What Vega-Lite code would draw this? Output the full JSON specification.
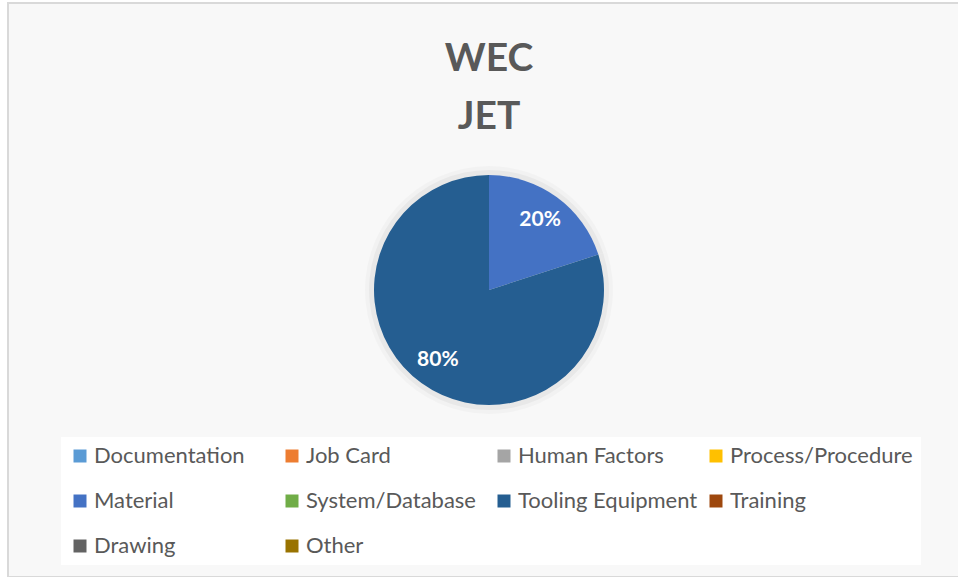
{
  "$schema": "https://vega.github.io/schema/vega-lite/v6.json",
  "autosize": {"type": "none"},
  "padding": {"left": 8, "top": 3, "right": 0, "bottom": 0},
  "width": 962,
  "height": 574,
  "background": "white",
  "view": {"fill": "#f8f8f8", "stroke": "#d9d9d9", "strokeWidth": 2},
  "config": {
    "font": "Lato"
  },
  "title": {
    "text": ["WEC", "JET"],
    "fontSize": 39,
    "fontWeight": "bold",
    "color": "#595959",
    "font": "Lato",
    "anchor": "middle",
    "lineHeight": 58,
    "baseline": "alphabetic",
    "dy": 165,
    "offset": 0
  },
  "data": {
    "values": [
      {"cat": "Documentation", "share": 0},
      {"cat": "Job Card", "share": 0},
      {"cat": "Human Factors", "share": 0},
      {"cat": "Process/Procedure", "share": 0},
      {"cat": "Material", "share": 0.2},
      {"cat": "System/Database", "share": 0},
      {"cat": "Tooling Equipment", "share": 0.8},
      {"cat": "Training", "share": 0},
      {"cat": "Drawing", "share": 0},
      {"cat": "Other", "share": 0}
    ]
  },
  "layer": [
    {
      "mark": {"type": "arc", "outerRadius": 124, "fill": "#000000", "opacity": 0.025},
      "encoding": {"theta": {"field": "share", "type": "quantitative", "stack": true}}
    },
    {
      "mark": {"type": "arc", "outerRadius": 120, "fill": "#000000", "opacity": 0.04},
      "encoding": {"theta": {"field": "share", "type": "quantitative", "stack": true}}
    },
    {
      "mark": {"type": "arc", "outerRadius": 115},
      "encoding": {
        "theta": {"field": "share", "type": "quantitative", "stack": true},
        "color": {
          "field": "cat",
          "type": "nominal",
          "scale": {
            "domain": ["Documentation", "Job Card", "Human Factors", "Process/Procedure", "Material", "System/Database", "Tooling Equipment", "Training", "Drawing", "Other"],
            "range": ["#5B9BD5", "#ED7D31", "#A5A5A5", "#FFC000", "#4472C4", "#70AD47", "#255E91", "#9E480E", "#636363", "#997300"]
          },
          "legend": {
            "title": null,
            "orient": "none",
            "legendX": 53,
            "legendY": 434,
            "direction": "horizontal",
            "columns": 4,
            "gridAlign": "all",
            "columnPadding": 4,
            "rowPadding": 23,
            "padding": 8,
            "fillColor": "white",
            "symbolType": "square",
            "symbolSize": 169,
            "symbolStrokeWidth": 0,
            "labelFontSize": 22,
            "labelColor": "#595959",
            "labelFont": "Lato",
            "labelOffset": 3,
            "labelLimit": 300
          }
        }
      }
    },
    {
      "transform": [{"filter": "datum.share > 0"}],
      "mark": {"type": "text", "radius": 87, "fill": "white", "fontWeight": "bold", "fontSize": 21, "font": "Lato"},
      "encoding": {
        "theta": {"field": "share", "type": "quantitative", "stack": true},
        "detail": {"field": "cat", "type": "nominal"},
        "text": {"field": "share", "type": "quantitative", "format": ".0%"}
      }
    }
  ]
}
